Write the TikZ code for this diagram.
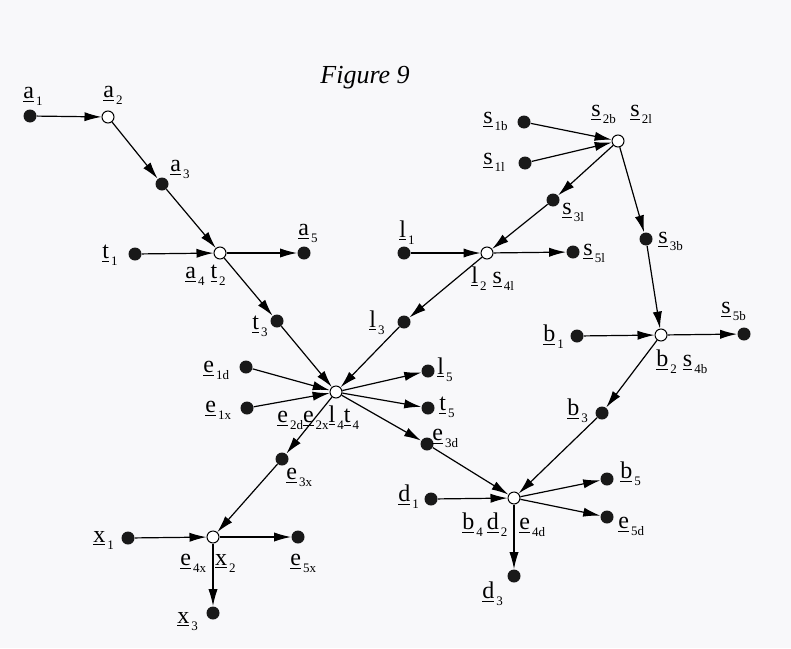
\documentclass[tikz,border=0pt]{standalone}
\usepackage{fontspec}
\setmainfont{Liberation Serif}
\usetikzlibrary{arrows.meta}
\definecolor{paper}{RGB}{248,248,250}
\newcommand{\vr}[2]{\underline{#1}\kern1pt{\fontsize{6.5}{7}\selectfont\raisebox{-3.5pt}{#2}}}
\tikzset{
  dot/.style={circle,fill=black!90,inner sep=0pt,minimum size=6.5pt},
  hub/.style={circle,draw,fill=white,inner sep=0pt,minimum size=6pt,line width=0.5pt},
  flow/.style={-{Latex[length=8.5pt,width=4.6pt]},line width=0.6pt},
  lab/.style={anchor=base west,inner sep=0pt,font=\fontsize{12}{14}\selectfont}
}
\begin{document}
\begin{tikzpicture}[x=0.5pt,y=-0.5pt]
\fill[paper] (0,0) rectangle (791,648);
\useasboundingbox (0,0) rectangle (791,648);
\node[lab,font=\fontsize{13}{15}\selectfont\itshape] (title) at (320,83) {Figure 9};
% hubs
\node[hub] (ja) at (108,117) {};
\node[hub] (jat) at (220,253) {};
\node[hub] (jc) at (336,392) {};
\node[hub] (jx) at (213,537) {};
\node[hub] (jl) at (487,253) {};
\node[hub] (js) at (618,141) {};
\node[hub] (jb) at (661,335) {};
\node[hub] (jd) at (514,498) {};
% dots
\node[dot] (a1) at (30,116) {};
\node[dot] (a3) at (162,184) {};
\node[dot] (t1) at (135,254) {};
\node[dot] (a5) at (304,253) {};
\node[dot] (t3) at (277,321) {};
\node[dot] (e1d) at (246,367) {};
\node[dot] (e1x) at (247,408) {};
\node[dot] (l5) at (428,371) {};
\node[dot] (t5) at (428,408) {};
\node[dot] (e3d) at (427,444) {};
\node[dot] (e3x) at (282,459) {};
\node[dot] (x1) at (128,538) {};
\node[dot] (e5x) at (298,537) {};
\node[dot] (x3) at (213,613) {};
\node[dot] (l1) at (404,253) {};
\node[dot] (l3) at (404,322) {};
\node[dot] (s5l) at (573,252) {};
\node[dot] (s3l) at (553,200) {};
\node[dot] (s1b) at (524,122) {};
\node[dot] (s1l) at (525,163) {};
\node[dot] (s3b) at (646,239) {};
\node[dot] (b1) at (577,336) {};
\node[dot] (s5b) at (744,334) {};
\node[dot] (b3) at (602,413) {};
\node[dot] (d1) at (431,499) {};
\node[dot] (b5) at (607,479) {};
\node[dot] (e5d) at (607,517) {};
\node[dot] (d3) at (514,576) {};
% arrows
\foreach \s/\t in {a1/ja, ja/a3, a3/jat, t1/jat, jat/a5, jat/t3, t3/jc,
  e1d/jc, e1x/jc, l3/jc, jc/l5, jc/t5, jc/e3d, jc/e3x, e3x/jx, x1/jx,
  jx/e5x, jx/x3, l1/jl, jl/s5l, s3l/jl, jl/l3, s1b/js, s1l/js, js/s3l,
  js/s3b, s3b/jb, b1/jb, jb/s5b, jb/b3, b3/jd, e3d/jd, d1/jd, jd/b5,
  jd/e5d, jd/d3}
  \draw[flow] (\s) -- (\t);
% labels
\node[lab] (la1) at (23,98) {\vr{a}{1}};
\node[lab] (la2) at (103,97) {\vr{a}{2}};
\node[lab] (la3) at (170,171) {\vr{a}{3}};
\node[lab] (lt1) at (102,258) {\vr{t}{1}};
\node[lab] (lat) at (185,278) {\vr{a}{4}\hspace{3pt}\vr{t}{2}};
\node[lab] (la5) at (298,235) {\vr{a}{5}};
\node[lab] (lt3) at (252,329) {\vr{t}{3}};
\node[lab] (le1d) at (203,372) {\vr{e}{1d}};
\node[lab] (le1x) at (205,412) {\vr{e}{1x}};
\node[lab] (lc) at (277,422) {\vr{e}{2d}\vr{e}{2x}\vr{l}{4}\vr{t}{4}};
\node[lab] (ll5) at (437,374) {\vr{l}{5}};
\node[lab] (lt5) at (439,410) {\vr{t}{5}};
\node[lab] (le3d) at (432,440) {\vr{e}{3d}};
\node[lab] (le3x) at (286,479) {\vr{e}{3x}};
\node[lab] (lx1) at (93,542) {\vr{x}{1}};
\node[lab] (lx) at (180,565) {\vr{e}{4x}\hspace{4.5pt}\vr{x}{2}};
\node[lab] (le5x) at (290,565) {\vr{e}{5x}};
\node[lab] (lx3) at (177,623) {\vr{x}{3}};
\node[lab] (ll1) at (399,237) {\vr{l}{1}};
\node[lab] (ll3) at (369,327) {\vr{l}{3}};
\node[lab] (ll) at (471,283) {\vr{l}{2}\hspace{3pt}\vr{s}{4l}};
\node[lab] (ls5l) at (583,255) {\vr{s}{5l}};
\node[lab] (ls3l) at (562,214) {\vr{s}{3l}};
\node[lab] (ls1b) at (483,123) {\vr{s}{1b}};
\node[lab] (ls1l) at (483,164) {\vr{s}{1l}};
\node[lab] (ls2b) at (591,116) {\vr{s}{2b}};
\node[lab] (ls2l) at (630,116) {\vr{s}{2l}};
\node[lab] (ls3b) at (658,243) {\vr{s}{3b}};
\node[lab] (lb1) at (543,341) {\vr{b}{1}};
\node[lab] (ls5b) at (721,313) {\vr{s}{5b}};
\node[lab] (lb) at (656,366) {\vr{b}{2}\hspace{3pt}\vr{s}{4b}};
\node[lab] (lb3) at (567,415) {\vr{b}{3}};
\node[lab] (ld1) at (398,501) {\vr{d}{1}};
\node[lab] (ld) at (462,529) {\vr{b}{4}\hspace{2pt}\vr{d}{2}\hspace{6pt}\vr{e}{4d}};
\node[lab] (lb5) at (620,478) {\vr{b}{5}};
\node[lab] (le5d) at (618,528) {\vr{e}{5d}};
\node[lab] (ld3) at (482,598) {\vr{d}{3}};
\end{tikzpicture}
\end{document}
